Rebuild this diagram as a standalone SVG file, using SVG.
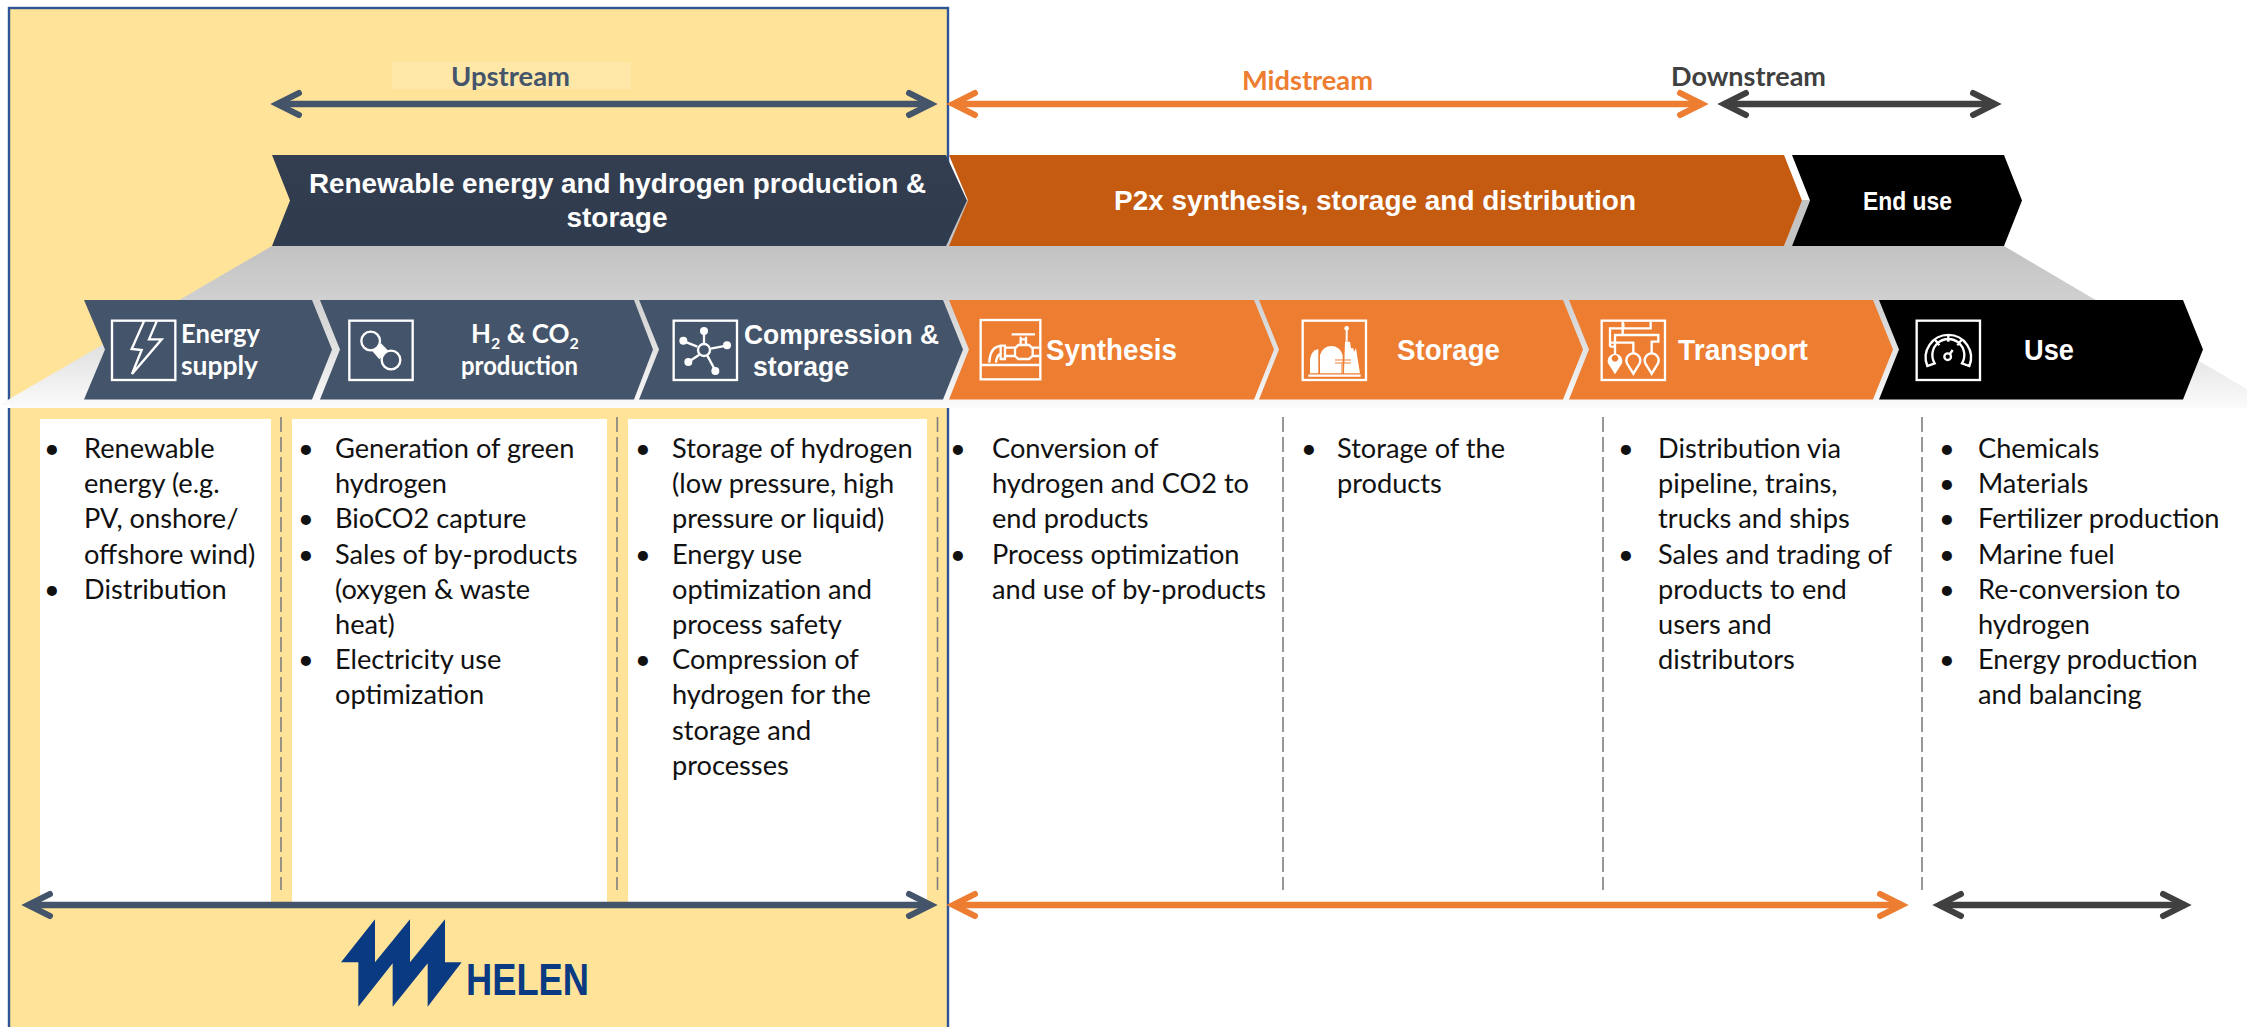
<svg xmlns="http://www.w3.org/2000/svg" width="2247" height="1027" viewBox="0 0 2247 1027">
<style>
text{font-family:"Liberation Sans",Arial,sans-serif}
.lato{font-family:Lato,"Open Sans",sans-serif}
.b{font-weight:700;fill:#fff}
.t2{font-size:29px}
.list{font-family:Lato,"Open Sans",sans-serif;font-size:27.2px;fill:#111}
.ico{fill:none;stroke:#fff;stroke-width:7}
.icof{fill:#fff;stroke:none}
.dash{stroke:#7f7f7f;stroke-width:1.6;stroke-dasharray:15 5;fill:none}
.arr{fill:none;stroke-width:6.5}
</style>
<defs>
<linearGradient id="fade" gradientUnits="userSpaceOnUse" x1="0" y1="246" x2="0" y2="408">
<stop offset="0" stop-color="#c2c2c2"/><stop offset=".33" stop-color="#d0d0d0"/><stop offset=".7" stop-color="#e6e6e6"/><stop offset="1" stop-color="#fbfbfb"/>
</linearGradient>
<linearGradient id="dk" x1="0" y1="0" x2="0" y2="1"><stop offset="0" stop-color="#333f50"/><stop offset="1" stop-color="#2f3b4e"/></linearGradient>
<marker id="hS" markerUnits="userSpaceOnUse" viewBox="-30 -16 40 32" markerWidth="40" markerHeight="32" refX="0" refY="0" orient="auto-start-reverse"><path d="M-22,-11 L0,0 L-22,11" fill="none" stroke="#44546a" stroke-width="6" stroke-linecap="round"/></marker>
<marker id="hO" markerUnits="userSpaceOnUse" viewBox="-30 -16 40 32" markerWidth="40" markerHeight="32" refX="0" refY="0" orient="auto-start-reverse"><path d="M-22,-11 L0,0 L-22,11" fill="none" stroke="#ed7d31" stroke-width="6" stroke-linecap="round"/></marker>
<marker id="hD" markerUnits="userSpaceOnUse" viewBox="-30 -16 40 32" markerWidth="40" markerHeight="32" refX="0" refY="0" orient="auto-start-reverse"><path d="M-22,-11 L0,0 L-22,11" fill="none" stroke="#404040" stroke-width="6" stroke-linecap="round"/></marker>
</defs>

<g id="background">
<rect x="9" y="8" width="939" height="1030" fill="#ffe399" stroke="#2f5597" stroke-width="2.4"/>
<polygon points="272,246 2004,246 2279,408 -6,408" fill="url(#fade)"/>
<rect x="0" y="405" width="10" height="3" fill="#fff"/>
<rect x="40" y="419" width="231" height="489" fill="#fff"/>
<rect x="292" y="419" width="315" height="489" fill="#fff"/>
<rect x="628" y="419" width="299" height="489" fill="#fff"/>
<rect x="392" y="62" width="239" height="27" fill="#ffe7a8"/>
<polygon points="967,200 946,246 950,246 969,200" fill="#c4c4c4"/>
<polygon points="1802,200 1784,246 1792,246 1810,200" fill="#c4c4c4"/>
</g>

<g id="stage-labels" font-weight="700">
<text id="label-upstream" class="lato" x="451" y="86" font-size="26" fill="#44546a" textLength="119" lengthAdjust="spacingAndGlyphs">Upstream</text>
<text id="label-midstream" class="lato" x="1242" y="90" font-size="26" fill="#ed7d31" textLength="131" lengthAdjust="spacingAndGlyphs">Midstream</text>
<text id="label-downstream" class="lato" x="1671" y="86" font-size="26" fill="#404040" textLength="155" lengthAdjust="spacingAndGlyphs">Downstream</text>
</g>

<g id="top-renewable">
<polygon points="272,155 946,155 967,200.5 946,246 272,246 290,200.5" fill="url(#dk)"/>
<text class="b" font-size="28" x="309" y="193" textLength="617" lengthAdjust="spacingAndGlyphs">Renewable energy and hydrogen production &amp;</text>
<text class="b" font-size="28" x="617" y="227" text-anchor="middle" textLength="101" lengthAdjust="spacingAndGlyphs">storage</text>
</g>
<g id="top-p2x">
<polygon points="949,155 1784,155 1802,200.5 1784,246 949,246 968,200.5" fill="#c55a11"/>
<text class="b" font-size="28" x="1114" y="210" textLength="522" lengthAdjust="spacingAndGlyphs">P2x synthesis, storage and distribution</text>
</g>
<g id="top-enduse">
<polygon points="1792,155 2004,155 2022,200.5 2004,246 1792,246 1810,200.5" fill="#000"/>
<text class="b" font-size="25" x="1863" y="210" textLength="89" lengthAdjust="spacingAndGlyphs">End use</text>
</g>

<g id="step-energy">
<polygon points="84,300 312,300 332,349.5 312,399.5 84,399.5 105,349.5" fill="#44546a"/>
<g transform="translate(0 280) scale(.33333)">
<rect class="ico" x="336" y="122" width="190" height="178"/>
<path class="ico" d="M432,124 L395,207 L425,210 L396,282 L485,178 L447,178 L470,124" stroke-width="6"/>
</g>
<text class="b lato" font-size="26" x="181" y="343" textLength="79" lengthAdjust="spacingAndGlyphs">Energy</text>
<text class="b lato" font-size="26" x="181" y="375" textLength="77" lengthAdjust="spacingAndGlyphs">supply</text>
</g>
<g id="step-production">
<polygon points="320,300 634,300 653,349.5 634,399.5 320,399.5 340,349.5" fill="#44546a"/>
<g transform="translate(310 280) scale(.33333)">
<rect class="ico" x="118" y="122" width="190" height="178"/>
<circle class="ico" cx="182" cy="183" r="28"/><circle class="ico" cx="243" cy="240" r="28"/>
<polygon class="icof" points="213,190 235,212 208,238 186,212"/>
</g>
<text class="b lato" font-size="26" x="471" y="343">H<tspan dy="6" font-size="16">2</tspan><tspan dy="-6"> &amp; CO</tspan><tspan dy="6" font-size="16">2</tspan></text>
<text class="b lato" font-size="26" x="461" y="375" textLength="117" lengthAdjust="spacingAndGlyphs">production</text>
</g>
<g id="step-compression">
<polygon points="639,300 943,300 963,349.5 943,399.5 639,399.5 659,349.5" fill="#44546a"/>
<g transform="translate(620 280) scale(.33333)">
<rect class="ico" x="161" y="122" width="190" height="178"/>
<path class="ico" d="M252,165 V192 M192,184 L232,200 M320,197 L272,206 M206,245 L238,224 M285,270 L262,227"/>
<circle class="ico" cx="252" cy="210" r="18"/>
<g class="icof"><circle cx="252" cy="153" r="12"/><circle cx="190" cy="182" r="12"/><circle cx="321" cy="196" r="12"/><circle cx="205" cy="246" r="12"/><circle cx="286" cy="273" r="12"/></g>
</g>
<text class="b" font-size="27" x="744" y="344" textLength="195" lengthAdjust="spacingAndGlyphs">Compression &amp;</text>
<text class="b" font-size="27" x="753" y="376" textLength="96" lengthAdjust="spacingAndGlyphs">storage</text>
</g>
<g id="step-synthesis">
<polygon points="949,300 1254,300 1274,349.5 1254,399.5 949,399.5 969,349.5" fill="#ed7d31"/>
<g transform="translate(950 280) scale(.33333)">
<rect class="ico" x="92" y="120" width="179" height="178"/>
<path class="ico" d="M92,255 H271" stroke-width="6"/>
<path class="ico" stroke-width="5" d="M185,163 H255 M212,170 V195 M228,170 V195 M212,178 H228 M205,195 H237 L248,205 V228 L237,237 H205 L195,228 V205 Z M248,203 H268 M248,228 H268 M195,203 H165 M195,228 H165 M165,197 V237 H152 V197 Z M152,198 Q120,200 118,248 M152,222 Q140,225 138,248"/>
</g>
<text class="b t2" x="1046" y="360" textLength="131" lengthAdjust="spacingAndGlyphs">Synthesis</text>
</g>
<g id="step-storage">
<polygon points="1259,300 1563,300 1583,349.5 1563,399.5 1259,399.5 1279,349.5" fill="#ed7d31"/>
<g transform="translate(1250 280) scale(.33333)">
<rect class="ico" x="158" y="122" width="190" height="178"/>
<path class="ico" d="M175,287 H332" stroke-width="6"/>
<g class="icof">
<path d="M210,280 V225 A35,35 0 0 1 278,225 V280 Z"/>
<path d="M180,280 V238 Q182,212 205,207 V280 Z"/>
<circle cx="290" cy="145" r="7"/><rect x="287" y="150" width="6" height="35"/>
<path d="M282,280 L285,185 H300 L303,205 L310,205 L312,215 L318,205 L325,250 L330,280 Z"/>
</g>
<path d="M255,240 H303 M255,249 H303 M276,250 V280" fill="none" stroke="#ed7d31" stroke-width="3"/>
</g>
<text class="b t2" x="1397" y="360" textLength="103" lengthAdjust="spacingAndGlyphs">Storage</text>
</g>
<g id="step-transport">
<polygon points="1569,300 1873,300 1893,349.5 1873,399.5 1569,399.5 1589,349.5" fill="#ed7d31"/>
<g transform="translate(1560 280) scale(.33333)">
<rect class="ico" x="125" y="122" width="190" height="178"/>
<path class="ico" stroke-width="5" d="M150,200 V145 H188 V125 M165,222 V165 H188 V145 M190,130 V145 H272 V125 M190,165 H295 V185 H275 V222 M150,188 H220 V222 M150,200 H165"/>
<path class="icof" fill-rule="evenodd" d="M165,283 L144,250 A22,22 0 1 1 186,250 Z M165,225 a10,10 0 1 0 .1,0 Z"/>
<path class="ico" stroke-width="5" d="M220,281 L201,250 A21,21 0 1 1 239,250 Z M275,281 L256,250 A21,21 0 1 1 294,250 Z"/>
</g>
<text class="b t2" x="1678" y="360" textLength="130" lengthAdjust="spacingAndGlyphs">Transport</text>
</g>
<g id="step-use">
<polygon points="1879,300 2183,300 2203,349.5 2183,399.5 1879,399.5 1899,349.5" fill="#000"/>
<g transform="translate(1860 280) scale(.33333)">
<rect class="ico" x="170" y="122" width="190" height="178"/>
<path class="ico" stroke-width="5" d="M202,258 A68,68 0 1 1 328,258 L306,250 A48,48 0 1 0 224,250 Z M265,165 V185 M224,178 L238,196 M306,178 L292,196"/>
<circle class="ico" cx="263" cy="230" r="10" stroke-width="6"/>
<path class="ico" stroke-width="5" d="M270,222 L278,210"/>
</g>
<text class="b t2" x="2024" y="360" textLength="50" lengthAdjust="spacingAndGlyphs">Use</text>
</g>

<g id="connectors">
<path class="arr" stroke="#44546a" d="M277,104 H931" marker-start="url(#hS)" marker-end="url(#hS)"/>
<path class="arr" stroke="#ed7d31" d="M953,104 H1702" marker-start="url(#hO)" marker-end="url(#hO)"/>
<path class="arr" stroke="#404040" d="M1724,104 H1995" marker-start="url(#hD)" marker-end="url(#hD)"/>
<path class="arr" stroke="#44546a" d="M28,905 H931" marker-start="url(#hS)" marker-end="url(#hS)"/>
<path class="arr" stroke="#ed7d31" d="M953,905 H1902" marker-start="url(#hO)" marker-end="url(#hO)"/>
<path class="arr" stroke="#404040" d="M1939,905 H2185" marker-start="url(#hD)" marker-end="url(#hD)"/>
</g>
<g id="dividers">
<path class="dash" d="M281,417 V890"/><path class="dash" d="M617,417 V890"/><path class="dash" d="M937.5,417 V890"/>
<path class="dash" d="M1283,417 V890"/><path class="dash" d="M1603,417 V890"/><path class="dash" d="M1922,417 V890"/>
</g>

<g id="col-energy">
<text class="list" x="44" y="458">•</text><text class="list" x="44" y="599">•</text>
<text class="list" x="84" y="458">Renewable</text><text class="list" x="84" y="493">energy (e.g.</text><text class="list" x="84" y="528">PV, onshore/</text><text class="list" x="84" y="564">offshore wind)</text><text class="list" x="84" y="599">Distribution</text>
</g>
<g id="col-production">
<text class="list" x="298" y="458">•</text><text class="list" x="298" y="528">•</text><text class="list" x="298" y="564">•</text><text class="list" x="298" y="669">•</text>
<text class="list" x="335" y="458">Generation of green</text><text class="list" x="335" y="493">hydrogen</text><text class="list" x="335" y="528">BioCO2 capture</text><text class="list" x="335" y="564">Sales of by-products</text><text class="list" x="335" y="599">(oxygen &amp; waste</text><text class="list" x="335" y="634">heat)</text><text class="list" x="335" y="669">Electricity use</text><text class="list" x="335" y="704">optimization</text>
</g>
<g id="col-compression">
<text class="list" x="635" y="458">•</text><text class="list" x="635" y="564">•</text><text class="list" x="635" y="669">•</text>
<text class="list" x="672" y="458">Storage of hydrogen</text><text class="list" x="672" y="493">(low pressure, high</text><text class="list" x="672" y="528">pressure or liquid)</text><text class="list" x="672" y="564">Energy use</text><text class="list" x="672" y="599">optimization and</text><text class="list" x="672" y="634">process safety</text><text class="list" x="672" y="669">Compression of</text><text class="list" x="672" y="704">hydrogen for the</text><text class="list" x="672" y="740">storage and</text><text class="list" x="672" y="775">processes</text>
</g>
<g id="col-synthesis">
<text class="list" x="950" y="458">•</text><text class="list" x="950" y="564">•</text>
<text class="list" x="992" y="458">Conversion of</text><text class="list" x="992" y="493">hydrogen and CO2 to</text><text class="list" x="992" y="528">end products</text><text class="list" x="992" y="564">Process optimization</text><text class="list" x="992" y="599">and use of by-products</text>
</g>
<g id="col-storage">
<text class="list" x="1301" y="458">•</text>
<text class="list" x="1337" y="458">Storage of the</text><text class="list" x="1337" y="493">products</text>
</g>
<g id="col-transport">
<text class="list" x="1618" y="458">•</text><text class="list" x="1618" y="564">•</text>
<text class="list" x="1658" y="458">Distribution via</text><text class="list" x="1658" y="493">pipeline, trains,</text><text class="list" x="1658" y="528">trucks and ships</text><text class="list" x="1658" y="564">Sales and trading of</text><text class="list" x="1658" y="599">products to end</text><text class="list" x="1658" y="634">users and</text><text class="list" x="1658" y="669">distributors</text>
</g>
<g id="col-use">
<text class="list" x="1939" y="458">•</text><text class="list" x="1939" y="493">•</text><text class="list" x="1939" y="528">•</text><text class="list" x="1939" y="564">•</text><text class="list" x="1939" y="599">•</text><text class="list" x="1939" y="669">•</text>
<text class="list" x="1978" y="458">Chemicals</text><text class="list" x="1978" y="493">Materials</text><text class="list" x="1978" y="528">Fertilizer production</text><text class="list" x="1978" y="564">Marine fuel</text><text class="list" x="1978" y="599">Re-conversion to</text><text class="list" x="1978" y="634">hydrogen</text><text class="list" x="1978" y="669">Energy production</text><text class="list" x="1978" y="704">and balancing</text>
</g>

<g id="logo-helen">
<polygon transform="translate(300 900) scale(.33333)" fill="#0a3a82" points="123,187 225,58 225,187 330,58 330,187 435,58 435,187 485,187 383,320 383,190 278,320 278,190 175,320 175,187"/>
<text x="466" y="995" font-size="44" font-weight="700" fill="#0a3a82" textLength="123" lengthAdjust="spacingAndGlyphs">HELEN</text>
</g>
</svg>
